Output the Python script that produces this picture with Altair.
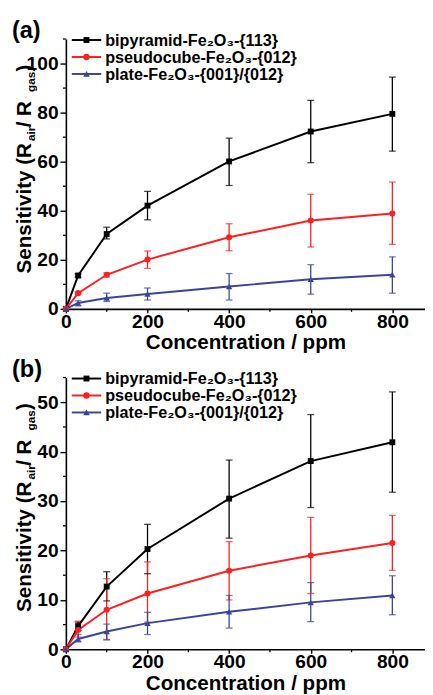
import altair as alt
import pandas as pd

# ---------------- data ----------------
conc = [0, 30, 100, 200, 400, 600, 800]
series = ["bipyramid-Fe₂O₃-{113}", "pseudocube-Fe₂O₃-{012}", "plate-Fe₂O₃-{001}/{012}"]
colors = ["#000000", "#ff1f1f", "#3b449c"]
shapes = ["square", "circle", "triangle-up"]
sizes = [36, 42, 46]

# panel (a)
a_bipy = [0, 13.6, 30.5, 42.1, 60.1, 72.3, 79.5]
a_bipy_lo = [0, 12.9, 28.5, 36.3, 50.3, 59.6, 64.3]
a_bipy_hi = [0, 14.3, 33.3, 47.9, 69.6, 85.0, 94.5]
a_pseudo = [0, 6.4, 13.9, 20.1, 29.2, 36.0, 38.9]
a_pseudo_lo = [0, 5.9, 13.0, 16.5, 23.7, 25.2, 26.3]
a_pseudo_hi = [0, 6.9, 14.7, 23.6, 34.7, 46.7, 51.7]
a_plate = [0, 2.4, 4.4, 6.1, 9.1, 12.1, 13.9]
a_plate_lo = [0, 1.2, 3.0, 3.6, 3.6, 6.0, 6.4]
a_plate_hi = [0, 3.3, 6.4, 8.5, 14.4, 18.0, 21.2]

# panel (b)
b_bipy = [0, 4.7, 12.7, 20.3, 30.5, 38.1, 41.9]
b_bipy_lo = [0, 3.8, 9.8, 15.3, 22.5, 28.7, 31.8]
b_bipy_hi = [0, 5.5, 15.7, 25.3, 38.3, 47.5, 52.1]
b_pseudo = [0, 3.9, 8.0, 11.3, 15.9, 19.0, 21.5]
b_pseudo_lo = [0, 2.5, 2.0, 5.5, 10.0, 11.3, 16.0]
b_pseudo_hi = [0, 5.7, 14.3, 17.7, 21.8, 26.7, 27.1]
b_plate = [0, 2.1, 3.6, 5.3, 7.6, 9.5, 10.9]
b_plate_lo = [0, 1.5, 1.9, 3.0, 4.3, 5.6, 7.0]
b_plate_hi = [0, 3.0, 5.1, 7.5, 10.9, 13.5, 14.9]

x_major = [0, 200, 400, 600, 800]
x_minor = [100, 300, 500, 700]
a_y_major = [0, 20, 40, 60, 80, 100]
a_y_minor = [10, 30, 50, 70, 90, 110]
b_y_major = [0, 10, 20, 30, 40, 50]
b_y_minor = [5, 15, 25, 35, 45, 55]

FONT = "Liberation Sans"
W = 366


def panel(label, vals, ymax, ymajor, yminor, H):
    rows = []
    for i, name in enumerate(series):
        mid, lo, hi = vals[i]
        for c, v, l, h in zip(conc, mid, lo, hi):
            rows.append(dict(series=name, conc=c, s=v, lo=l, hi=h))
    df = pd.DataFrame(rows)
    df_err = df[df.conc > 0]

    xs = alt.Scale(domain=[0, 880], nice=False, zero=False)
    ys = alt.Scale(domain=[0, ymax], nice=False)
    color = alt.Color("series:N", scale=alt.Scale(domain=series, range=colors), legend=None)
    shape = alt.Shape("series:N", scale=alt.Scale(domain=series, range=shapes), legend=None)
    size = alt.Size("series:N", scale=alt.Scale(domain=series, range=sizes), legend=None)

    xaxis = alt.Axis(values=x_major, title="Concentration / ppm", tickSize=4,
                     labelPadding=0, titlePadding=1, labelFlush=False, format="d")
    yaxis = alt.Axis(values=ymajor, title=None, tickSize=6, labelPadding=2,
                     labelFlush=False, format="d")

    def X(f):
        return alt.X(f, scale=xs, axis=xaxis)

    def Y(f):
        return alt.Y(f, scale=ys, axis=yaxis)

    err = alt.Chart(df_err).mark_rule(strokeWidth=1.3).encode(
        x=X("conc:Q"), y=Y("lo:Q"), y2="hi:Q", color=color)
    cap_lo = alt.Chart(df_err).mark_tick(orient="horizontal", size=7, thickness=1.3).encode(
        x=X("conc:Q"), y=Y("lo:Q"), color=color)
    cap_hi = alt.Chart(df_err).mark_tick(orient="horizontal", size=7, thickness=1.3).encode(
        x=X("conc:Q"), y=Y("hi:Q"), color=color)
    line = alt.Chart(df).mark_line(strokeWidth=2).encode(
        x=X("conc:Q"), y=Y("s:Q"), color=color, detail="series:N")
    pts = alt.Chart(df).mark_point(filled=True, opacity=1).encode(
        x=X("conc:Q"), y=Y("s:Q"), color=color, shape=shape, size=size)

    # minor ticks
    ymin_df = pd.DataFrame({"v": yminor})
    xmin_df = pd.DataFrame({"v": x_minor})
    yminor_ticks = alt.Chart(ymin_df).mark_rule(color="black", strokeWidth=1.3).encode(
        y=Y("v:Q"), x=alt.value(-3), x2=alt.value(0))
    xminor_ticks = alt.Chart(xmin_df).mark_rule(color="black", strokeWidth=1.3).encode(
        x=X("v:Q"), y=alt.value(H), y2=alt.value(H + 3))

    layers = [err, cap_lo, cap_hi, line, pts, yminor_ticks, xminor_ticks]

    # legend (drawn manually: line + marker + text)
    leg_y = [1.0, 18.3, 35.6]
    for i, name in enumerate(series):
        d = pd.DataFrame({"t": [name]})
        layers.append(alt.Chart(d).mark_rule(color=colors[i], strokeWidth=2).encode(
            x=alt.value(6), x2=alt.value(36), y=alt.value(leg_y[i])))
        layers.append(alt.Chart(d).mark_point(filled=True, opacity=1, color=colors[i],
                                              shape=shapes[i], size=sizes[i]).encode(
            x=alt.value(21), y=alt.value(leg_y[i])))
        layers.append(alt.Chart(d).mark_text(font=FONT, fontWeight="bold", fontSize=16.5,
                                             align="left", baseline="middle", color="black",
                                             dy=1).encode(
            x=alt.value(40), y=alt.value(leg_y[i]), text="t:N"))

    # panel label
    layers.append(alt.Chart(pd.DataFrame({"t": [label]})).mark_text(
        font=FONT, fontWeight="bold", fontSize=24, align="left", baseline="alphabetic",
        color="black").encode(x=alt.value(-55), y=alt.value(-1), text="t:N"))

    # y-axis title with subscripts
    pieces = [("Sensitivity (R", 21, -36, 239), ("air", 12, -31, 104),
              (" / R", 21, -36, 90), ("gas", 12, -31, 54), (")", 21, -36, 33)]
    for txt, fs, px, py in pieces:
        layers.append(alt.Chart(pd.DataFrame({"t": [txt]})).mark_text(
            font=FONT, fontWeight="bold", fontSize=fs, angle=270, align="left",
            baseline="alphabetic", color="black").encode(
            x=alt.value(px), y=alt.value(py), text="t:N"))

    return alt.layer(*layers).properties(width=W, height=H)


pa = panel("(a)", [(a_bipy, a_bipy_lo, a_bipy_hi), (a_pseudo, a_pseudo_lo, a_pseudo_hi),
                   (a_plate, a_plate_lo, a_plate_hi)], 110, a_y_major, a_y_minor, 275)
pb = panel("(b)", [(b_bipy, b_bipy_lo, b_bipy_hi), (b_pseudo, b_pseudo_lo, b_pseudo_hi),
                   (b_plate, b_plate_lo, b_plate_hi)], 55, b_y_major, b_y_minor, 277)

chart = alt.vconcat(pa, pb, spacing=5).properties(
    padding={"left": 4, "top": 5, "right": 0, "bottom": 0}
).configure_view(stroke=None).configure_axis(
    domainColor="black", domainWidth=1.6, tickColor="black", tickWidth=1.4,
    labelFont=FONT, labelFontWeight="bold", labelFontSize=19.5, labelColor="black",
    titleFont=FONT, titleFontWeight="bold", titleFontSize=21, titleColor="black",
    grid=False, labelOverlap=False
)

chart.save("out.html", embed_options={"renderer": "svg", "actions": False})
